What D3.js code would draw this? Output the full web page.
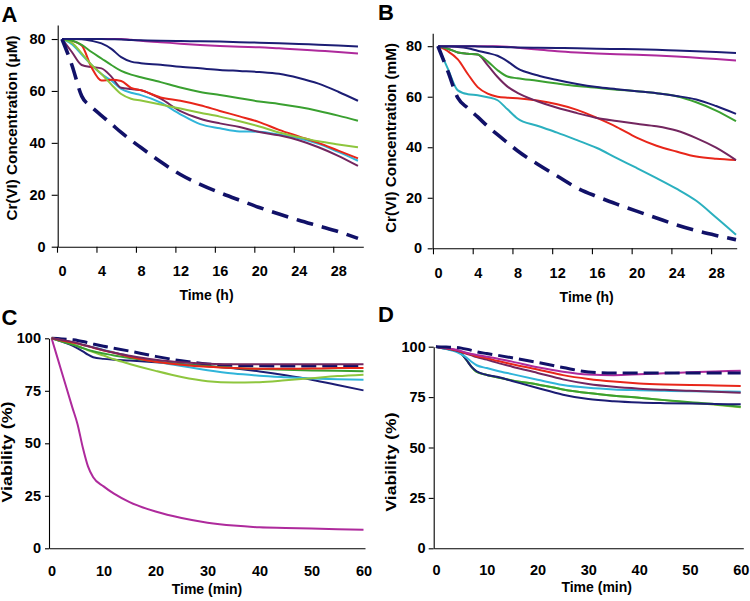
<!DOCTYPE html>
<html><head><meta charset="utf-8">
<script src="https://cdn.jsdelivr.net/npm/d3@7"></script>
<style>
body{margin:0;background:#fff}
svg{display:block}
text{font-family:"Liberation Sans",Arial,sans-serif;font-weight:bold;fill:#000}
</style>
</head><body>
<svg id="chart" width="750" height="601"></svg>
<script>
// ---------- DATA ----------
const timeAB = [0,1,2,3,4,5,6,7,8,10,12,14,16,18,20,22,24,26,28,30];
const timeCD = [0,2,4,5,6,7,8,10,12,15,20,25,30,35,40,45,50,55,60];

const xTicksAB = [0,4,8,12,16,20,24,28];
const yTicksAB = [0,20,40,60,80];
const xTicksCD = [0,10,20,30,40,50,60];
const yTicksCD = [0,25,50,75,100];

// Panel A  (Cr(VI) µM)
const aNavyTop = [80,80,80,80,80,79.9,79.8,79.6,79.5,79.3,79.2,79.1,79,78.8,78.6,78.4,78.1,77.8,77.5,77.1];
const aMagenta = [80,80,80,80,80,80,80,79.7,79.3,78.8,78.2,77.7,77.3,77,76.8,76.4,76,75.5,75,74.4];
const aNavy2   = [80,80,79.9,79.3,78.3,76.2,73,71.3,70.7,70.1,69.3,68.7,68.1,67.7,67.3,66.6,65,62.8,59.7,56.2];
const aGreen   = [80,79.4,77.7,75,72.5,70,67.7,66.3,65.3,63.4,61.3,59.6,58.4,57.2,55.9,55,53.8,52.3,50.5,48.5];
const aLime    = [80,78.5,74.5,70,66.5,62.5,58.8,57,56.3,54.8,53.2,51.6,50.1,48.3,46.3,44,42.2,40.6,39.4,38.3];
const aRed     = [80,79.3,77.5,69,64,64.3,63.8,61.2,60.3,57.5,56.2,54.5,52.3,50.2,48,45,42.5,40,37,34];
const aCyan    = [80,78,74,70,66.5,64,60.8,59.3,58.4,55.5,51,47.2,45.6,44.4,44.3,43.2,41.8,39.6,36.5,33.1];
const aPurple  = [80,75,70,69.2,68.7,65.5,61.2,60.7,60.3,57,52.2,49.3,47.5,46.1,44.2,42.9,41,38.3,35,31.1];
const aDashed  = [80,70,58,53.8,50.5,47.3,44,41,38.2,32.7,27.8,24,20.8,17.9,15.1,12.6,10.2,8,5.8,3.2];

// Panel B  (Cr(VI) mM)
const bNavyTop = [80,80,80,80,79.9,79.8,79.7,79.6,79.5,79.4,79.3,79.2,79,78.9,78.8,78.6,78.3,78,77.7,77.3];
const bMagenta = [80,80,80,80,80,80,80,79.8,79.4,78.7,78,77.5,77.1,76.8,76.6,76.3,75.9,75.4,74.9,74.3];
const bNavy2   = [80,79.9,79.7,79.2,78.2,77.3,76.2,74,71.2,68.5,66.6,65,63.8,63,62.2,61.4,60.3,58.9,56.3,53.2];
const bGreen   = [80,79,77.5,77,76.7,74,70.5,68,67.3,66.3,65.2,64.2,63.5,62.8,62.2,61.4,60.2,57.8,54.5,50.3];
const bPurple  = [80,79,77.5,77,76.7,72.5,67.8,64,61.5,58.2,55.6,53.5,51.6,50.4,49.3,48.3,46.6,43.6,39.8,34.9];
const bRed     = [80,78,74.8,69,63.8,61.2,60,59.6,59.4,58.5,57,54.8,51.6,48,43.8,40.6,38.3,36.3,35.4,34.9];
const bCyan    = [80,71,62.5,61,60.6,59.8,58.6,55,51.4,48.5,45.8,42.8,39.7,35.7,31.8,27.8,23.6,18.8,12.2,5.4];
const bDashed  = [80,70,59.5,55.5,52,48.3,45,41.8,38.6,33.4,28.6,23.9,20.5,17.5,14.7,12,9.3,7,5.1,3.4];

// Panel C  (viability %)
const cPurple  = [100,99.2,98.3,97.7,97,96.3,95.6,94.3,93.1,91.7,89.8,88.6,87.9,87.6,87.6,87.6,87.6,87.6,87.7];
const cDashed  = [100,99.7,99.3,99,98.5,97.9,97.3,96.2,95.3,93.9,91.4,89.3,87.8,87.1,86.9,86.8,86.8,86.8,86.8];
const cRed     = [100,99,98,97.5,96.8,96.2,95.5,94.2,93.1,91.2,88.8,87.4,86.4,85.8,85.5,85.5,85.6,85.8,85.9];
const cGreen   = [100,98.5,97,96.2,95.3,94.5,93.8,92.8,91.8,90.6,89,87.7,86.7,85.9,85.4,85,84.7,84.5,84.3];
const cLime    = [100,98.6,97.2,96.3,95.3,94.3,93.4,91.8,90,87.8,84.5,81.6,79.6,78.9,79.1,80,81,82,82.7];
const cCyan    = [100,99,98,97.4,96.8,96.2,95.8,94.5,93.3,91.5,89,86.8,84.8,83.2,82.2,81.5,80.9,80.5,80.3];
const cNavy    = [100,98.4,96.5,95.2,93.8,92.2,91,90.2,89.8,89.4,88.6,87.7,86.8,85.7,84.2,82.4,80.3,77.8,75.2];
const cMagenta = [100,83.5,67,59,48,39,33.8,29.5,26,22,17.5,14.4,12.2,10.8,10,9.7,9.4,9.1,8.8];

// Panel D  (viability %)
const dDashed  = [100,99.8,99.6,99.3,98.8,98.2,97.5,96.6,95.8,94.5,92.2,89.7,87.5,87,87,87,87,87,87];
const dMagenta = [100,99.3,98.5,97.8,97,96.4,95.9,95,94.2,92.6,89.8,87.6,86.2,85.9,86.3,86.8,87.3,87.7,88.1];
const dRed     = [100,99.2,98.3,97.5,96.8,96.1,95.3,94.3,93,91.3,88.7,85.9,84,82.7,81.8,81.3,81,80.8,80.5];
const dPurple  = [100,99.1,98,97.3,96.5,95.7,94.9,93.6,92.1,90.1,87,83.8,81.5,80.1,79.2,78.6,78.1,77.6,77.2];
const dCyan    = [100,98.8,97.4,96.2,94.6,92.5,90.8,89.4,88.1,86.4,83.6,81,79.6,78.8,78.4,78.1,77.9,77.8,77.7];
const dNavy    = [100,99,97.8,96.5,93.4,90,87.8,86,85.1,83,79.5,76.2,74,72.9,72.3,72,71.8,71.6,71.4];
const dGreen   = [100,99,97.8,96.5,93.4,90,87.5,86,84.8,83.3,81.3,78.8,77,75.7,74.7,73.5,72.5,71.5,70.2];
const dLime    = [100,99,97.8,96.5,93.4,90,87.5,86,84.8,83.3,81.3,78.8,77,75.7,74.7,73.5,72.2,71.2,70];

// ---------- STYLE ----------
const colors = {
  navy:"#1c1d74", magenta:"#ae2a9c", purple:"#73265f", green:"#3aa030",
  lime:"#8ec63e", red:"#e8261a", cyan:"#30b5da", teal:"#2bb0bf", dash:"#111168"
};

const svg = d3.select("#chart");

const panels = [
  { letter:"A", lx:1.5, ly:21.5, time:timeAB,
    series:[["cyan",aCyan],["purple",aPurple],["red",aRed],["lime",aLime],["green",aGreen],
            ["navy",aNavy2],["magenta",aMagenta],["navy",aNavyTop],["dash",aDashed,true]],
    xDomain:[-0.436,30.54], xRange:[57.7,363.3], yDomain:[0,85.4], yRange:[246.7,25],
    xTicks:xTicksAB, yTicks:yTicksAB, yTickSize:6, yPad:6, xTickSize:6, xTickShift:-5, xLabelY:29,
    ytitle:"Cr(VI) Concentration (\u03bcM)", ytx:16.5, yty:128, ytLen:185,
    xtitle:"Time (h)", xtx:206.5, xty:299.5, dashW:3.6, dashArr:"17,9" },
  { letter:"B", lx:378, ly:20, time:timeAB,
    series:[["teal",bCyan],["red",bRed],["purple",bPurple],["green",bGreen],["navy",bNavy2],
            ["magenta",bMagenta],["navy",bNavyTop],["dash",bDashed,true]],
    xDomain:[-0.53,30.07], xRange:[432.7,736.7], yDomain:[0,85.1], yRange:[248.3,33.3],
    xTicks:xTicksAB, yTicks:yTicksAB, yTickSize:5, yPad:5.5, xTickSize:6, xTickShift:-5, xLabelY:30,
    ytitle:"Cr(VI) Concentration (mM)", ytx:395.5, yty:138, ytLen:190,
    xtitle:"Time (h)", xtx:586.7, xty:302, dashW:3.6, dashArr:"17,9" },
  { letter:"C", lx:1.5, ly:325, time:timeCD,
    series:[["dash",cDashed,true],["magenta",cMagenta],["navy",cNavy],["cyan",cCyan],["lime",cLime],
            ["green",cGreen],["red",cRed],["purple",cPurple]],
    xDomain:[-0.5,60.29], xRange:[49,365], yDomain:[0,100], yRange:[548.3,338.3],
    xTicks:xTicksCD, yTicks:yTicksCD, yTickSize:4, yPad:4, xTickSize:0, xTickShift:0, xLabelY:28,
    ytitle:"Viability (%)", ytx:12, yty:452, ytLen:101,
    xtitle:"Time (min)", xtx:207, xty:594, dashW:3, dashArr:"15,6" },
  { letter:"D", lx:378, ly:321.5, time:timeCD,
    series:[["lime",dLime],["green",dGreen],["navy",dNavy],["cyan",dCyan],["purple",dPurple],
            ["red",dRed],["magenta",dMagenta],["dash",dDashed,true]],
    xDomain:[-0.45,60.51], xRange:[433.7,743.3], yDomain:[0,100], yRange:[548.3,346.7],
    xTicks:xTicksCD, yTicks:yTicksCD, yTickSize:5, yPad:3, xTickSize:0, xTickShift:0, xLabelY:26.5,
    ytitle:"Viability (%)", ytx:396, yty:462, ytLen:99,
    xtitle:"Time (min)", xtx:596.7, xty:591.5, dashW:3, dashArr:"15,6" }
];

function drawPanel(p) {
  const g = svg.append("g");
  const x = d3.scaleLinear().domain(p.xDomain).range(p.xRange);
  const y = d3.scaleLinear().domain(p.yDomain).range(p.yRange);

  // axes
  const gy = g.append("g").attr("transform", `translate(${p.xRange[0]},0)`)
    .call(d3.axisLeft(y).tickValues(p.yTicks).tickSize(p.yTickSize).tickSizeOuter(0)
      .tickPadding(p.yPad).tickFormat(d3.format("d")));
  const gx = g.append("g").attr("transform", `translate(0,${p.yRange[0]})`)
    .call(d3.axisBottom(x).tickValues(p.xTicks).tickSize(p.xTickSize).tickSizeOuter(0)
      .tickFormat(d3.format("d")));
  [gy, gx].forEach(a => {
    a.attr("font-family", null).attr("font-size", 14.5);
    a.selectAll("path,line").attr("stroke", "#000").attr("stroke-width", 1.1);
  });
  gx.selectAll(".tick line").attr("transform", `translate(${p.xTickShift},0)`);
  gx.selectAll(".tick text").attr("y", p.xLabelY).attr("dy", 0);

  // lines
  const line = d3.line()
    .x((d, i) => x(p.time[i]))
    .y(d => y(d))
    .curve(d3.curveMonotoneX);
  p.series.forEach(([c, vals, dashed]) => {
    g.append("path")
      .attr("d", line(vals))
      .attr("fill", "none")
      .attr("stroke", colors[c])
      .attr("stroke-width", dashed ? p.dashW : 2)
      .attr("stroke-dasharray", dashed ? p.dashArr : null)
      .attr("stroke-linejoin", "round");
  });

  // titles
  g.append("text").attr("x", p.lx).attr("y", p.ly).attr("font-size", 22).text(p.letter);
  g.append("text").attr("transform", `translate(${p.ytx},${p.yty}) rotate(-90)`)
    .attr("text-anchor", "middle").attr("font-size", 14.5)
    .attr("textLength", p.ytLen).attr("lengthAdjust", "spacingAndGlyphs")
    .text(p.ytitle);
  g.append("text").attr("x", p.xtx).attr("y", p.xty)
    .attr("text-anchor", "middle").attr("font-size", 14).text(p.xtitle);
}

panels.forEach(drawPanel);
</script>
</body></html>
